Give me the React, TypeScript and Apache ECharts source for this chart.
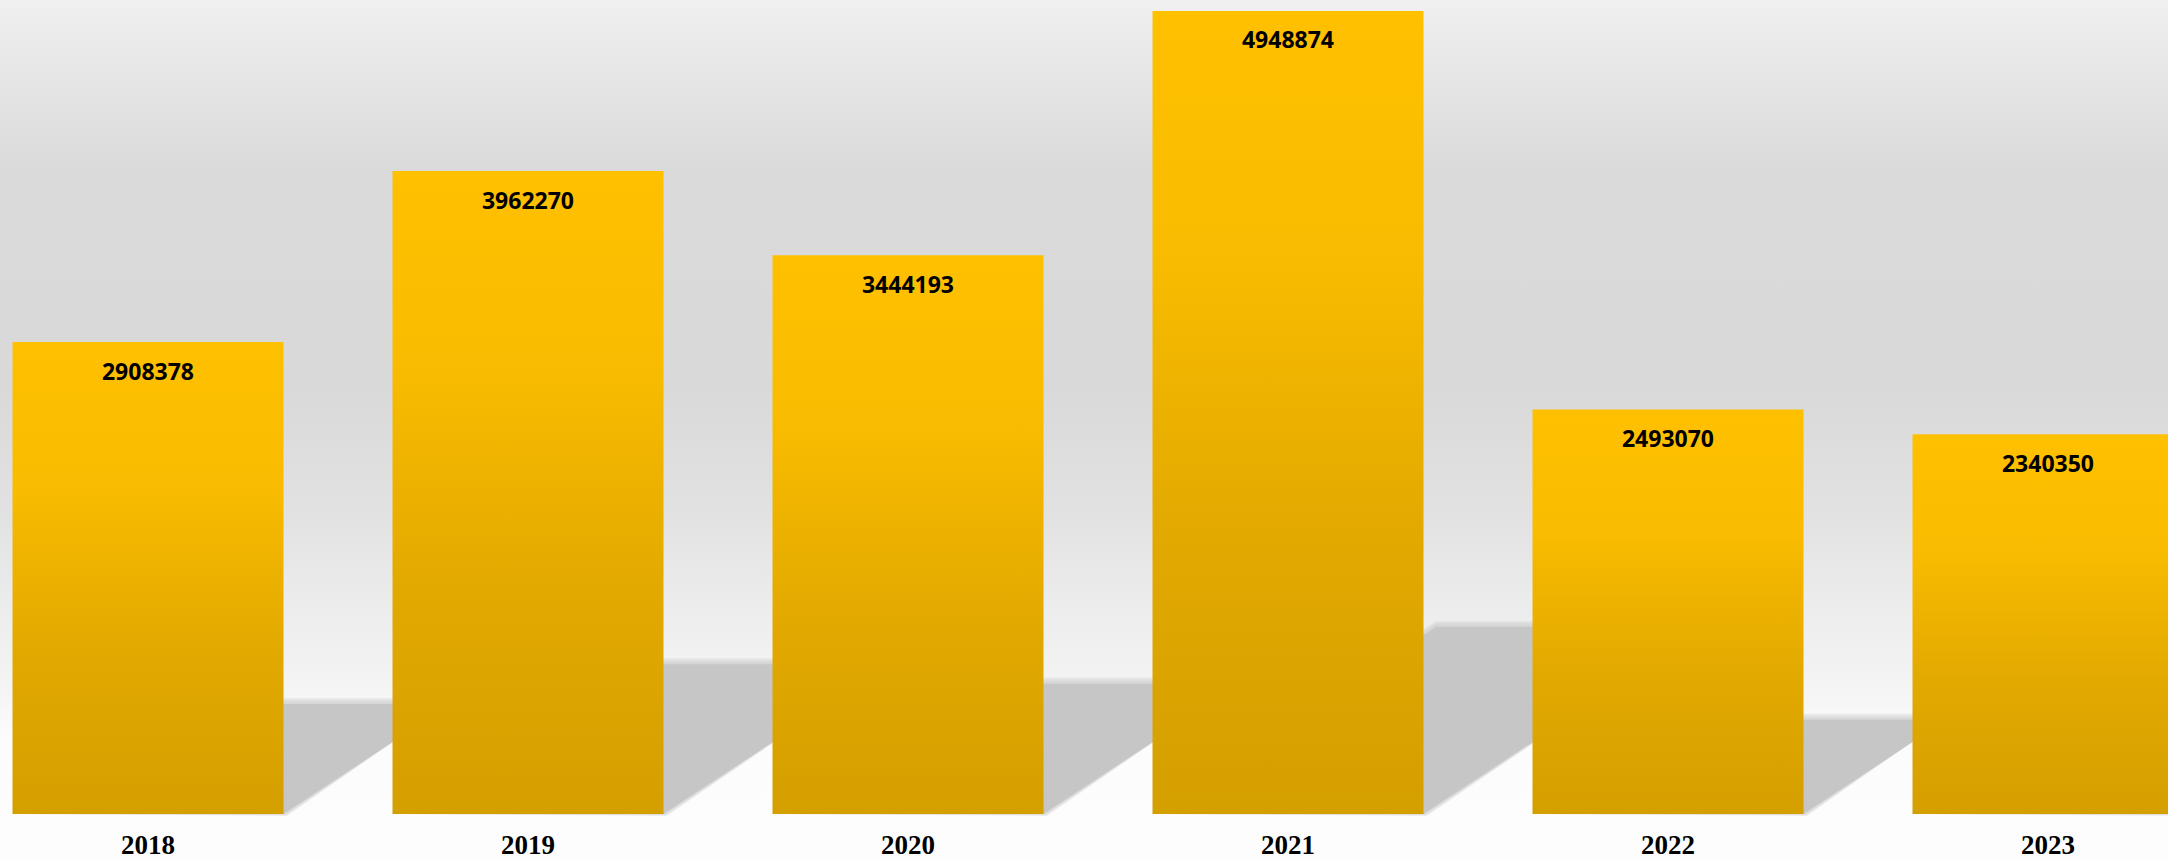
import React, { useEffect, useRef } from "react";
import * as echarts from "echarts";

const categories = ["2018", "2019", "2020", "2021", "2022", "2023"];
const values = [2908378, 3962270, 3444193, 4948874, 2493070, 2340350];
const shadowRatio = 0.233;

export default function App() {
  const ref = useRef<HTMLDivElement>(null);
  useEffect(() => {
    if (!ref.current) return;
    const chart = echarts.init(ref.current, null, { renderer: "svg" });
    const option: any = {
      animation: false,
      grid: { left: 0, right: 0, top: 2.7, bottom: 46, containLabel: false },
      xAxis: {
        type: "category",
        data: categories,
        axisLine: { show: false },
        axisTick: { show: false },
        axisLabel: {
          margin: 17,
          fontFamily: "Liberation Serif",
          fontWeight: "bold",
          fontSize: 27,
          color: "#000",
        },
      },
      yAxis: {
        type: "value",
        min: 0,
        max: 5000000,
        show: false,
        splitLine: { show: false },
      },
      series: [
        {
          type: "custom",
          z: 1,
          silent: true,
          data: values.map((v, i) => [i, v]),
          renderItem: (params: any, api: any) => {
            const idx = api.value(0);
            const v = api.value(1);
            const base = api.coord([idx, 0]);
            const top = api.coord([idx, v * shadowRatio]);
            const half = 271 / 2;
            const left = base[0] - half;
            const right = base[0] + half;
            const h = base[1] - top[1];
            const dx = h / 0.66;
            const layers = [6, 4, 2, 0];
            return {
              type: "group",
              children: layers.map((e) => ({
                type: "polygon",
                shape: {
                  points: [
                    [left, base[1]],
                    [right + e * 0.6, base[1] + e * 0.3],
                    [right + dx + e, top[1] - e],
                    [left + dx, top[1] - e],
                  ],
                },
                style: {
                  fill: e === 0 ? "#c6c6c6" : "rgba(198,198,198,0.28)",
                },
              })),
            };
          },
        },
        {
          type: "bar",
          z: 2,
          data: values,
          barWidth: 271,
          itemStyle: {
            color: new echarts.graphic.LinearGradient(0, 0, 0, 1, [
              { offset: 0, color: "#ffc000" },
              { offset: 0.3, color: "#f9bc00" },
              { offset: 0.65, color: "#e2a900" },
              { offset: 1, color: "#d49f00" },
            ]),
          },
          label: {
            show: true,
            position: "insideTop",
            distance: 17,
            fontFamily: "Open Sans",
            fontWeight: "bold",
            fontSize: 23,
            color: "#000",
          },
        },
      ],
    };
    chart.setOption(option);
    return () => chart.dispose();
  }, []);
  return (
    <div
      style={{
        position: "fixed",
        left: 0,
        top: 0,
        width: 2168,
        height: 860,
        overflow: "hidden",
        background:
          "linear-gradient(to bottom, #f0f0f0 0%, #dadada 20%, #d9d9d9 45%, #e2e2e2 60%, #ececec 70%, #f4f4f4 80%, #fcfcfc 86%, #fdfdfd 100%)",
      }}
    >
      <div
        ref={ref}
        style={{
          position: "absolute",
          left: -42.5,
          top: 0,
          width: 2280,
          height: 860,
        }}
      />
    </div>
  );
}
